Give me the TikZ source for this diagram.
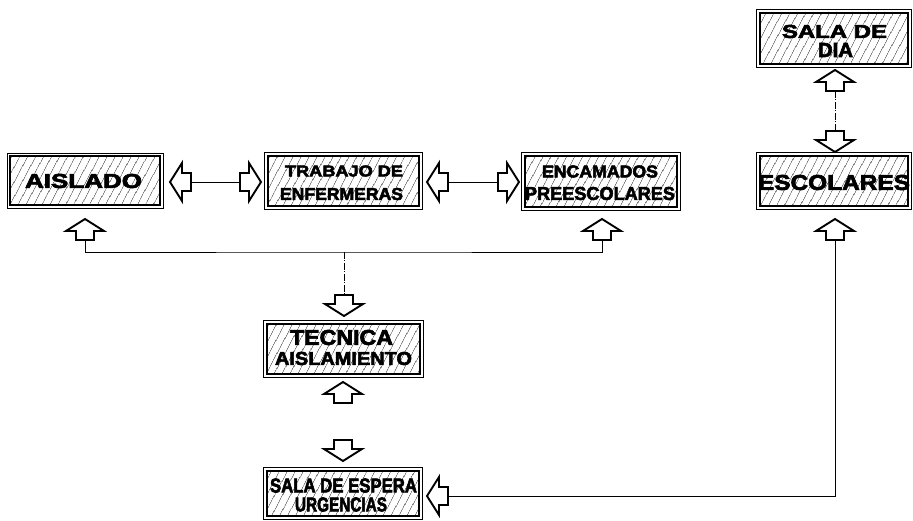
\documentclass[tikz,border=0pt]{standalone}
\usepackage{fontspec}
\newfontfamily\boxfont{Liberation Sans}[BoldFeatures={FakeBold=3}]
\usetikzlibrary{patterns.meta}
\newcommand\fitw[3]{\resizebox{#1pt}{#2pt}{\boxfont\bfseries #3}}
\tikzset{
  hbox/.style={draw, line width=1.8pt, inner sep=0pt,
    pattern={Lines[angle=62,distance=6.5pt,line width=0.6pt]}, pattern color=black!80},
  frame/.style={draw, line width=0.6pt},
  lbl/.style={inner sep=0pt, anchor=center},
  conn/.style={line width=0.8pt},
  dconn/.style={line width=0.8pt, dash pattern=on 7pt off 1.5pt on 1pt off 1.5pt},
  barrow/.pic={
    \draw[line width=1.9pt, fill=white, line join=miter, miter limit=4]
      (0,0) -- (-12,19) -- (-12,9) -- (-21,9) -- (-21,-9) -- (-12,-9) -- (-12,-19) -- cycle;
    \coordinate (-tail) at (-21,0);
  }
}
\begin{document}
\begin{tikzpicture}[x=1pt,y=-1pt]
\useasboundingbox (0,0) rectangle (913,521);

% boxes
\node[hbox, minimum width=150pt, minimum height=49pt] (aislado) at (85,180.5) {};
\node[hbox, minimum width=151pt, minimum height=50pt] (trabajo) at (343.5,181) {};
\node[hbox, minimum width=152pt, minimum height=51pt] (encamados) at (601,181.5) {};
\node[hbox, minimum width=148pt, minimum height=50pt] (escolares) at (834,181) {};
\node[hbox, minimum width=148pt, minimum height=51pt] (saladia) at (834,38.5) {};
\node[hbox, minimum width=153pt, minimum height=50pt] (tecnica) at (343.5,349) {};
\node[hbox, minimum width=152pt, minimum height=45pt] (espera) at (343,493.5) {};

\foreach \n in {aislado,trabajo,encamados,escolares,saladia,tecnica,espera}
  \draw[frame] ([shift={(-2.6pt,2.6pt)}]\n.north west) rectangle ([shift={(2.6pt,-2.6pt)}]\n.south east);

% texts
\node[lbl] (t1) at (83.5,181) {\fitw{117}{14}{AISLADO}};
\node[lbl] (t2a) at (344,171) {\fitw{118}{11}{TRABAJO DE}};
\node[lbl] (t2b) at (341.5,194) {\fitw{123}{12}{ENFERMERAS}};
\node[lbl] (t3a) at (600,171.5) {\fitw{116}{12}{ENCAMADOS}};
\node[lbl] (t3b) at (600,193.5) {\fitw{150}{13}{PREESCOLARES}};
\node[lbl] (t4) at (834,182.5) {\fitw{152}{15}{ESCOLARES}};
\node[lbl] (t5a) at (834.5,31.5) {\fitw{105}{13}{SALA DE}};
\node[lbl] (t5b) at (835.5,50) {\fitw{35}{14}{DIA}};
\node[lbl] (t6a) at (341.5,337.5) {\fitw{103}{15}{TECNICA}};
\node[lbl] (t6b) at (343.5,358.5) {\fitw{137}{13}{AISLAMIENTO}};
\node[lbl] (t7a) at (343.5,485.5) {\fitw{147}{14}{SALA DE ESPERA}};
\node[lbl] (t7b) at (341,504.5) {\fitw{92}{14}{URGENCIAS}};

% block arrows
\pic[rotate=180] (al1) at (170,182) {barrow};
\pic (ar1) at (261,182) {barrow};
\pic[rotate=180] (al2) at (427,182) {barrow};
\pic (ar2) at (519,182) {barrow};
\pic[rotate=90] (u1) at (85,219) {barrow};
\pic[rotate=90] (u2) at (602,219) {barrow};
\pic[rotate=90] (u3) at (835,219) {barrow};
\pic[rotate=90] (u4) at (343,382) {barrow};
\pic[rotate=90] (u5) at (835,70) {barrow};
\pic[rotate=-90] (d1) at (344,316) {barrow};
\pic[rotate=-90] (d2) at (343,461) {barrow};
\pic[rotate=-90] (d3) at (835,152) {barrow};
\pic[rotate=180] (l1) at (427,496) {barrow};

% connectors
\coordinate (hub) at (344,252);
\draw[conn] (al1-tail) -- (ar1-tail);
\draw[conn] (al2-tail) -- (ar2-tail);
\draw[conn] (u1-tail) |- (hub) -| (u2-tail);
\draw[dconn] (hub) -- (d1-tail);
\draw[dconn] (u5-tail) -- (d3-tail);
\draw[conn] (u3-tail) |- (l1-tail);
\end{tikzpicture}
\end{document}
